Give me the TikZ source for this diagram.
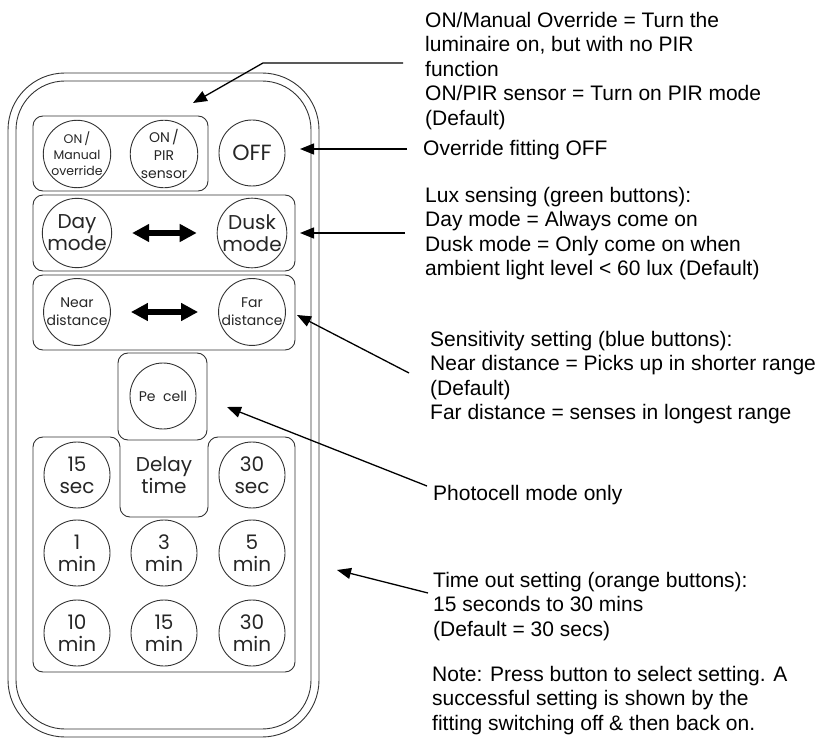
\documentclass[tikz,border=0pt]{standalone}
\usepackage{fontspec}
\setmainfont{Liberation Sans}
\newfontfamily\keyfont{Poppins}
\usetikzlibrary{calc}
\usetikzlibrary{positioning}
\usetikzlibrary{arrows.meta}

\begin{document}
\begin{tikzpicture}[
    x=1pt, y=-1pt,
    shell/.style={draw=black!80, line width=0.9pt},
    group/.style={draw=black!80, line width=0.9pt, rounded corners=10pt},
    key/.style={draw=black!80, line width=0.9pt, circle, minimum size=66pt, inner sep=0pt, align=center, text=black!85},
    small/.style={font=\keyfont\fontsize{12.5}{16}\selectfont},
    mid/.style={font=\keyfont\fontsize{14}{18}\selectfont},
    big/.style={font=\keyfont\fontsize{20}{22}\selectfont},
    note/.style={align=left, anchor=north west, inner sep=0pt, font=\fontsize{21}{24.5}\selectfont},
    callout/.style={line width=1.3pt, -{Triangle[length=14pt,width=11pt]}},
    toggle/.style={line width=6pt, {Triangle[length=17pt,width=17pt]}-{Triangle[length=17pt,width=17pt]}, shorten <=20pt, shorten >=20pt}
]
\useasboundingbox (0,0) rectangle (823,738);

% Remote body (double outline)
\draw[shell, rounded corners=57pt] (8,73) rectangle (319,737);
\draw[shell, rounded corners=49pt] (16,81) rectangle (311,729);

% Button groups
\draw[group] (33,116) rectangle (208,191);
\draw[group] (33,195) rectangle (295,271);
\draw[group] (33,275) rectangle (295,350);
\draw[group] (118,353) rectangle (207,440);
\draw[group] (33,437) -- (120,437) -- (120,517) -- (208,517) -- (208,437)
    -- (295,437) -- (295,672) -- (33,672) -- cycle;

% Top row
\node[key, small] (man) at (77,154) {ON\,/\\Manual\\override};
\node[key, mid] (pir) at (164,154) {ON\,/\\PIR\\sensor};
\node[key, big, font=\keyfont\fontsize{22}{22}\selectfont] (off) at (252,153) {OFF};

% Lux and sensitivity
\node[key, big] (day) at (77,233) {Day\\mode};
\node[key, big] (dusk) at (252,233) {Dusk\\mode};
\draw[toggle] (day) -- (dusk);

\node[key, mid] (near) at (77,312) {Near\\distance};
\node[key, mid] (far) at (252,312) {Far\\distance};
\draw[toggle] (near) -- (far);

% Photocell
\node[key, mid] (pe) at (163,396) {Pe\ \ cell};

% Delay time buttons
\node[big, align=center, text=black!85] (delay) at (164,475) {Delay\\time};
\node[key, big] (s15) at (77,475) {15\\sec};
\node[key, big] (s30) at (252,475) {30\\sec};
\node[key, big] (m1) at (77,553) {1\\min};
\node[key, big] (m3) at (164,553) {3\\min};
\node[key, big] (m5) at (252,553) {5\\min};
\node[key, big] (m10) at (77,633) {10\\min};
\node[key, big] (m15) at (164,633) {15\\min};
\node[key, big] (m30) at (252,633) {30\\min};

% Explanations
\node[note] (ontxt) at (425,12) {ON/Manual Override = Turn the\\luminaire on, but with no PIR\\function\\ON/PIR sensor = Turn on PIR mode\\(Default)};
\node[note] (offtxt) at (423,140) {Override fitting OFF};
\node[note] (luxtxt) at (425,187) {Lux sensing (green buttons):\\Day mode = Always come on\\Dusk mode = Only come on when\\ambient light level < 60 lux (Default)};
\node[note] (sentxt) at (430,331) {Sensitivity setting (blue buttons):\\Near distance = Picks up in shorter range\\(Default)\\Far distance = senses in longest range};
\node[note] (phototxt) at (433,485) {Photocell mode only};
\node[note] (timetxt) at (433,572) {Time out setting (orange buttons):\\15 seconds to 30 mins\\(Default = 30 secs)};
\node[note] (notetxt) at (432,666) {Note: Press button to select setting. A\\successful setting is shown by the\\fitting switching off \& then back on.};

% Arrow tips
\coordinate (onknee) at (263,63);
\coordinate (ontip) at (193,103);
\coordinate (offtip) at (300,149);
\coordinate (luxtip) at (300,233);
\coordinate (fartip) at (297,315);
\coordinate (petip) at (227,407);
\coordinate (timetip) at (337,570);

% Callouts
\draw[callout] ([shift={(-22,51)}]ontxt.north west) -- (onknee) -- (ontip);
\draw[callout] ([shift={(-16,9)}]offtxt.north west) -- (offtip);
\draw[callout] ([shift={(-20,46)}]luxtxt.north west) -- (luxtip);
\draw[callout] ([shift={(-21,42)}]sentxt.north west) -- (fartip);
\draw[callout] ([shift={(-6,1)}]phototxt.north west) -- (petip);
\draw[callout] ([shift={(-5,21)}]timetxt.north west) -- (timetip);

\end{tikzpicture}
\end{document}
